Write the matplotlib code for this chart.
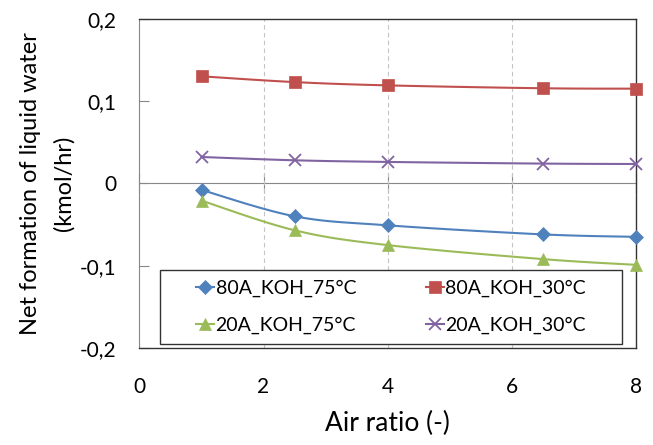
import numpy as np
import matplotlib.pyplot as plt
from matplotlib.ticker import FuncFormatter
from matplotlib.patches import Rectangle

plt.rcParams['font.family'] = ['Lato', 'DejaVu Sans']

# Data
air_ratio = [1, 2.5, 4, 6.5, 8]
koh80_75 = [-0.008, -0.040, -0.051, -0.062, -0.065]
koh80_30 = [0.130, 0.123, 0.119, 0.1155, 0.115]
koh20_75 = [-0.021, -0.057, -0.075, -0.092, -0.099]
koh20_30 = [0.032, 0.028, 0.026, 0.024, 0.0235]

series = [
    ("80A_KOH_75°C", koh80_75, "#4F81BD", "D", 7),
    ("80A_KOH_30°C", koh80_30, "#C0504D", "s", 8),
    ("20A_KOH_75°C", koh20_75, "#9BBB59", "^", 8),
    ("20A_KOH_30°C", koh20_30, "#8064A2", "x", 8),
]


def smooth(x, y, n=30):
    # Excel-like smoothed line (Catmull-Rom bezier through the points)
    x = np.asarray(x, float)
    y = np.asarray(y, float)
    p = np.column_stack([x, y])
    pts = [p[0]]
    for i in range(len(p) - 1):
        p0 = p[i - 1] if i > 0 else p[i]
        p3 = p[i + 2] if i + 2 < len(p) else p[i + 1]
        c1 = p[i] + (p[i + 1] - p0) / 6
        c2 = p[i + 1] - (p3 - p[i]) / 6
        t = np.linspace(0, 1, n)[1:, None]
        b = ((1 - t) ** 3 * p[i] + 3 * (1 - t) ** 2 * t * c1
             + 3 * (1 - t) * t ** 2 * c2 + t ** 3 * p[i + 1])
        pts.extend(b)
    pts = np.array(pts)
    return pts[:, 0], pts[:, 1]


fig = plt.figure(figsize=(6.53, 4.45), dpi=100)
ax = fig.add_axes([0.2136, 0.218, 0.76, 0.74])

handles = {}
for name, vals, col, mk, ms in series:
    sx, sy = smooth(air_ratio, vals)
    ax.plot(sx, sy, color=col, lw=1.5, zorder=3)
    ax.plot(air_ratio, vals, ls="none", marker=mk, color=col, ms=ms,
            mew=1.3 if mk == "x" else 0.5, zorder=4, clip_on=False)
    handles[name], = ax.plot([], [], color=col, lw=1.5, marker=mk, ms=ms,
                             mew=1.3 if mk == "x" else 0.5)

ax.set_xlim(0, 8)
ax.set_ylim(-0.2, 0.2)
ax.set_xticks([0, 2, 4, 6, 8])
ax.set_yticks([-0.2, -0.1, 0, 0.1, 0.2])
ax.yaxis.set_major_formatter(FuncFormatter(
    lambda v, p: "0" if abs(v) < 1e-9 else ("%.1f" % v).replace(".", ",")))
ax.tick_params(axis="x", length=0, labelsize=15, pad=21, colors="black")
ax.tick_params(axis="y", direction="in", length=7, color="#888888",
               labelsize=15, pad=16.5)

ax.grid(axis="x", color="#C4C4C4", ls=(0, (4, 3)), lw=0.8)
for s in ["top", "right", "bottom"]:
    ax.spines[s].set_color("#333333")
    ax.spines[s].set_linewidth(1.0)
ax.spines["left"].set_color("#888888")

# x axis line crossing at y = 0
sec = ax.secondary_xaxis(0.5)
sec.set_xticks([0, 2, 4, 6, 8])
sec.tick_params(direction="inout", length=14, color="#888888", labelbottom=False,
                labeltop=False)
sec.spines["bottom"].set_color("#888888")
sec.spines["top"].set_color("#888888")

ax.set_xlabel("Air ratio (-)", fontsize=19, labelpad=10)
ax.set_ylabel("Net formation of liquid water\n(kmol/hr)", fontsize=17,
              linespacing=1.7)
ax.yaxis.set_label_coords(-0.13, 0.5)

# legend: rows 80A then 20A
order = ["80A_KOH_75°C", "20A_KOH_75°C", "80A_KOH_30°C", "20A_KOH_30°C"]
leg = ax.legend([handles[k] for k in order], order, ncol=2, loc="center",
                bbox_to_anchor=(0.507, 0.1246), fontsize=14, frameon=False,
                handlelength=0.9, handletextpad=0.1, labelspacing=1.0,
                columnspacing=3.6)
leg.set_zorder(6)
ax.add_patch(Rectangle((0.041, 0.012), 0.931, 0.225, transform=ax.transAxes,
                       facecolor="white", edgecolor="#333333", lw=1.0, zorder=5))

fig.savefig("out.png", dpi=100)
